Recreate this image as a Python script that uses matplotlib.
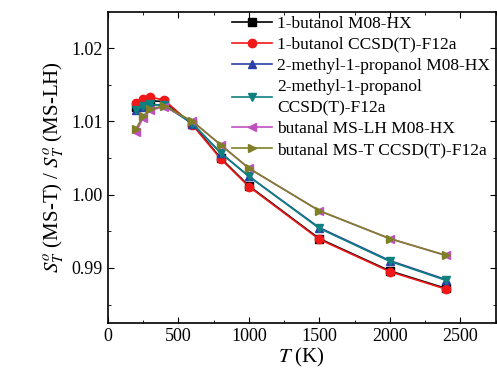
import numpy as np
import matplotlib
import matplotlib.pyplot as plt
from matplotlib.ticker import MultipleLocator

matplotlib.rcParams.update(
    {
        "font.family": "Liberation Serif",
        "mathtext.fontset": "stix",
        "font.size": 11,
        "xtick.direction": "in",
        "ytick.direction": "in",
        "xtick.top": True,
        "ytick.right": True,
    }
)

T = [200, 250, 300, 400, 600, 800, 1000, 1500, 2000, 2400]

butanol_m08 = [1.0120, 1.0125, 1.0128, 1.0127, 1.0096, 1.0050, 1.0012, 0.9940, 0.9896, 0.9872]
butanol_cc = [1.0125, 1.0131, 1.0133, 1.0129, 1.0095, 1.0049, 1.0011, 0.9939, 0.9895, 0.9871]
methylprop_m08 = [1.0115, 1.0120, 1.0123, 1.0122, 1.0097, 1.0057, 1.0025, 0.9955, 0.9910, 0.9884]
methylprop_cc = [1.0115, 1.0121, 1.0123, 1.0122, 1.0097, 1.0057, 1.0025, 0.9954, 0.9909, 0.9883]
butanal_lh = [1.0085, 1.0105, 1.0115, 1.0120, 1.0100, 1.0068, 1.0036, 0.9978, 0.9940, 0.9917]
butanal_t = [1.0090, 1.0107, 1.0117, 1.0121, 1.0100, 1.0068, 1.0036, 0.9978, 0.9940, 0.9917]

series = [
    ("1-butanol M08-HX", butanol_m08, "black", "s"),
    ("1-butanol CCSD(T)-F12a", butanol_cc, "#f01818", "o"),
    ("2-methyl-1-propanol M08-HX", methylprop_m08, "#2a3fa8", "^"),
    ("2-methyl-1-propanol\nCCSD(T)-F12a", methylprop_cc, "#0f8080", "v"),
    ("butanal MS-LH M08-HX", butanal_lh, "#c050c0", "<"),
    ("butanal MS-T CCSD(T)-F12a", butanal_t, "#7f7f28", ">"),
]

fig = plt.figure(figsize=(4.97, 3.9), dpi=100)
ax = fig.add_axes([0.217, 0.172, 0.78, 0.797])

for label, vals, color, marker in series:
    ax.plot(T, vals, color=color, marker=marker, ms=6, lw=1.2, label=label)

ax.set_xlim(0, 2750)
ax.set_ylim(0.9825, 1.0249)
ax.xaxis.set_major_locator(MultipleLocator(500))
ax.xaxis.set_minor_locator(MultipleLocator(250))
ax.yaxis.set_major_locator(MultipleLocator(0.01))
ax.yaxis.set_minor_locator(MultipleLocator(0.005))
ax.yaxis.set_major_formatter(matplotlib.ticker.FormatStrFormatter("%.2f"))
ax.tick_params(which="both", labelsize=13)
ax.tick_params(which="major", length=4)
ax.tick_params(which="minor", length=2.5)
for s in ax.spines.values():
    s.set_linewidth(1.2)

ax.set_xlabel(r"$T$ (K)", fontsize=15, labelpad=1)
ax.set_ylabel(r"$S^o_T$ (MS-T) / $S^o_T$ (MS-LH)", fontsize=15, labelpad=4)

leg = ax.legend(
    loc="upper right",
    bbox_to_anchor=(1.012, 1.022),
    frameon=False,
    fontsize=12.5,
    handlelength=2.3,
    labelspacing=0.28,
    handletextpad=0.3,
    borderaxespad=0.2,
)
for t in leg.get_texts():
    t.set_linespacing(1.45)

fig.savefig("out.png", dpi=100)
